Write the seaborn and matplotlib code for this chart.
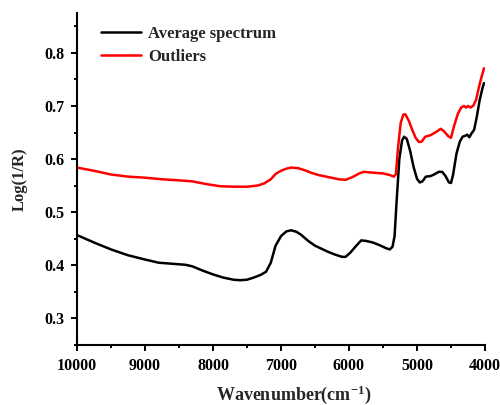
import numpy as np
import pandas as pd
import matplotlib
matplotlib.use("Agg")
import matplotlib.pyplot as plt
from matplotlib.ticker import MultipleLocator
import seaborn as sns

avg_wn = [10000, 9750, 9500, 9250, 9000, 8800, 8600, 8400, 8300, 8150, 8000, 7850, 7700, 7600,
          7500, 7400, 7300, 7220, 7150, 7080, 7000, 6920, 6850, 6770, 6700, 6600, 6500, 6400,
          6300, 6200, 6100, 6050, 5980, 5900, 5820, 5750, 5650, 5550, 5450, 5400, 5360, 5330,
          5300, 5260, 5220, 5190, 5150, 5100, 5050, 5000, 4960, 4920, 4870, 4800, 4750, 4680,
          4630, 4580, 4530, 4500, 4470, 4420, 4370, 4330, 4290, 4260, 4230, 4200, 4160, 4120,
          4080, 4040, 4015]
avg_val = [0.457, 0.443, 0.430, 0.419, 0.411, 0.405, 0.403, 0.401, 0.398, 0.390, 0.383, 0.377,
           0.373, 0.372, 0.373, 0.377, 0.382, 0.388, 0.405, 0.437, 0.455, 0.464, 0.466, 0.463,
           0.457, 0.446, 0.437, 0.431, 0.425, 0.420, 0.416, 0.416, 0.424, 0.436, 0.447, 0.446,
           0.443, 0.438, 0.432, 0.430, 0.435, 0.455, 0.520, 0.600, 0.635, 0.642, 0.638, 0.615,
           0.585, 0.563, 0.556, 0.558, 0.567, 0.568, 0.571, 0.576, 0.576, 0.568, 0.556, 0.555,
           0.570, 0.610, 0.633, 0.642, 0.644, 0.646, 0.641, 0.648, 0.655, 0.680, 0.710, 0.732,
           0.743]

out_wn = [10000, 9750, 9500, 9250, 9000, 8750, 8500, 8300, 8100, 7900, 7700, 7500, 7350, 7250,
          7150, 7080, 7000, 6920, 6850, 6750, 6650, 6550, 6450, 6300, 6150, 6050, 5950, 5850,
          5780, 5700, 5600, 5500, 5400, 5340, 5310, 5280, 5240, 5200, 5170, 5120, 5070, 5020,
          4970, 4930, 4880, 4800, 4720, 4650, 4600, 4540, 4500, 4460, 4400, 4350, 4310, 4280,
          4250, 4210, 4170, 4130, 4090, 4050, 4015]
out_val = [0.584, 0.578, 0.571, 0.567, 0.565, 0.562, 0.560, 0.558, 0.553, 0.549, 0.548, 0.548,
           0.550, 0.554, 0.562, 0.572, 0.578, 0.582, 0.584, 0.583, 0.579, 0.574, 0.570, 0.566,
           0.562, 0.561, 0.566, 0.573, 0.576, 0.575, 0.574, 0.573, 0.570, 0.567, 0.572, 0.620,
           0.668, 0.684, 0.684, 0.672, 0.655, 0.640, 0.632, 0.633, 0.642, 0.645, 0.651, 0.657,
           0.652, 0.643, 0.640, 0.660, 0.685, 0.697, 0.700, 0.697, 0.700, 0.697, 0.701, 0.712,
           0.735, 0.755, 0.771]

series_names = ["Average spectrum", "Outliers"]
colors = {"Average spectrum": "#000000", "Outliers": "#ff0000"}

df = pd.concat([
    pd.DataFrame({"wn": avg_wn, "val": avg_val, "series": series_names[0]}),
    pd.DataFrame({"wn": out_wn, "val": out_val, "series": series_names[1]}),
], ignore_index=True)

sns.set_style("ticks")
plt.rcParams["font.family"] = ["Liberation Serif", "DejaVu Serif"]
plt.rcParams["font.weight"] = "bold"
plt.rcParams["mathtext.fontset"] = "custom"
plt.rcParams["mathtext.rm"] = "Liberation Serif:bold"
plt.rcParams["mathtext.bf"] = "Liberation Serif:bold"
plt.rcParams["mathtext.default"] = "bf"

fig = plt.figure(figsize=(5.0, 4.05), dpi=100)
ax = fig.add_axes([0.154, 0.148, 0.816, 0.82])

sns.lineplot(data=df, x="wn", y="val", hue="series", palette=colors, sort=False,
             estimator=None, linewidth=1.8, ax=ax, hue_order=series_names)

ax.set_xlim(10000, 4000)
ax.set_ylim(0.25, 0.875)
ax.xaxis.set_minor_locator(MultipleLocator(500))
ax.yaxis.set_minor_locator(MultipleLocator(0.05))
ax.set_yticks([0.3, 0.4, 0.5, 0.6, 0.7, 0.8])
ax.set_yticklabels(["0.3", "0.4", "0.5", "0.6", "0.7", "0.8"])
ax.set_xticks([10000, 9000, 8000, 7000, 6000, 5000, 4000])
ax.set_xticklabels(["10000", "9000", "8000", "7000", "6000", "5000", "4000"])

ax.tick_params(axis="both", which="major", direction="out", length=4, width=1.4,
               labelsize=11.5, color="black", labelcolor="black", pad=5)
ax.tick_params(axis="both", which="minor", direction="out", length=2.5, width=1.4,
               color="black")
for lbl in ax.get_xticklabels() + ax.get_yticklabels():
    lbl.set_fontweight("bold")

for s in ["top", "right"]:
    ax.spines[s].set_visible(False)
for s in ["left", "bottom"]:
    ax.spines[s].set_linewidth(1.5)
    ax.spines[s].set_color("black")

ax.set_xlabel("Wavenumber(cm$^{-1}$)", fontsize=13, fontweight="bold")
ax.xaxis.set_label_coords(0.532, -0.115)
ax.set_ylabel("Log(1/R)", fontsize=12, fontweight="bold", labelpad=12)

leg = ax.legend(loc="upper left", bbox_to_anchor=(0.035, 0.99), frameon=False,
                prop={"family": ["Liberation Serif"], "weight": "bold", "size": 12},
                handlelength=2.4, handletextpad=0.4, labelspacing=0.4, borderaxespad=0.2)
for line in leg.get_lines():
    line.set_linewidth(1.8)

fig.savefig("out.png", dpi=100)
